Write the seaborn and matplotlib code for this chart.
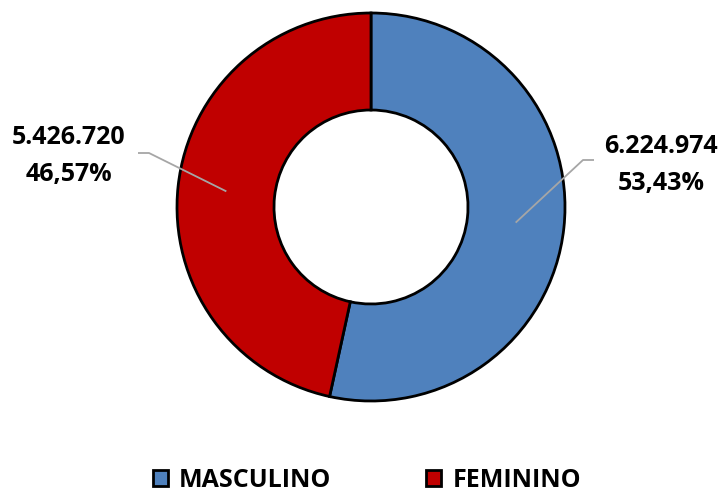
import numpy as np
import matplotlib
matplotlib.use("Agg")
import matplotlib.pyplot as plt
import seaborn as sns

categories = ["MASCULINO", "FEMININO"]
values = [6224974, 5426720]
colors = ["#4F81BD", "#C00000"]

sns.set_theme(style="white")
plt.rcParams['font.family'] = ['Open Sans', 'DejaVu Sans']
plt.rcParams['text.color'] = 'black'

W, H = 724, 494
fig = plt.figure(figsize=(W / 100, H / 100), dpi=100)
ax = fig.add_axes([0, 0, 1, 1])
ax.set_xlim(0, W)
ax.set_ylim(0, H)
ax.axis("off")

cx, cy, R = 371, H - 207, 194
wedges, _ = ax.pie(values, colors=colors, startangle=90, counterclock=False,
                   center=(cx, cy), radius=R,
                   wedgeprops=dict(width=R * 0.5, edgecolor="black", linewidth=2.0))
ax.set_xlim(0, W)
ax.set_ylim(0, H)
ax.set_aspect("equal")

total = sum(values)

def fmt_int(v):
    return f"{v:,}".replace(",", ".")

def fmt_pct(p):
    return f"{p:.2f}%".replace(".", ",")

# layout: elbow and text positions (pixels from top-left)
layout = {
    0: dict(elbow=(583, 160), end=(594, 160), text=(661, 165)),
    1: dict(elbow=(149, 153), end=(138, 153), text=(69, 156)),
}

for i, w in enumerate(wedges):
    mid = np.deg2rad((w.theta1 + w.theta2) / 2)
    px, py = cx + 0.75 * R * np.cos(mid), cy + 0.75 * R * np.sin(mid)
    L = layout[i]
    ex, ey = L["elbow"]; fx, fy = L["end"]
    ax.plot([px, ex, fx], [py, H - ey, H - fy], color="#A6A6A6", lw=1.3,
            solid_capstyle="butt", zorder=5)
    tx, ty = L["text"]
    ax.text(tx, H - ty, f"{fmt_int(values[i])}\n{fmt_pct(values[i] / total * 100)}",
            ha="center", va="center", fontsize=18, fontweight="bold",
            color="black", linespacing=1.6)

leg = fig.legend(wedges, categories, loc="center", ncol=2,
                 bbox_to_anchor=(367 / W, 1 - 480 / H), frameon=False,
                 prop=dict(size=18, weight="bold"), handlelength=0.6,
                 handleheight=0.6, handletextpad=0.45, columnspacing=3.8,
                 labelcolor="black")
for h in leg.legend_handles:
    h.set_edgecolor("black")
    h.set_linewidth(2.0)

fig.savefig("out.png", dpi=100)
